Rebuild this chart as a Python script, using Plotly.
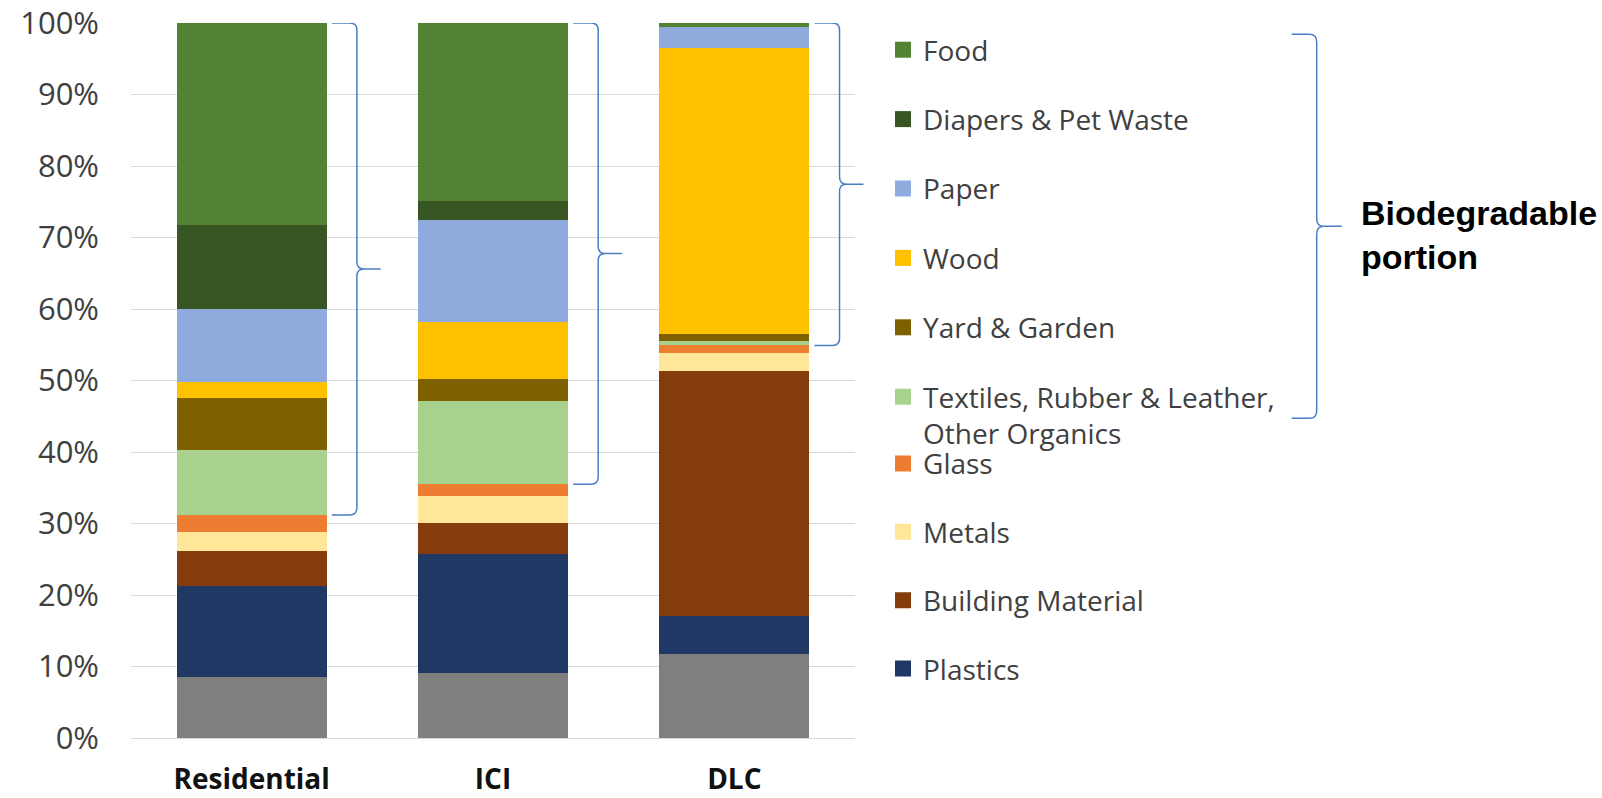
import plotly.graph_objects as go

# ---------------- data ----------------
categories = ["Residential", "ICI", "DLC"]

other = [8.6, 9.1, 11.7]          # grey base segment (not in legend)
plastics = [12.6, 16.6, 5.4]
building_material = [5.0, 4.4, 34.2]
metals = [2.6, 3.8, 2.6]
glass = [2.4, 1.6, 1.0]
textiles = [9.1, 11.7, 0.6]
yard_garden = [7.3, 3.0, 1.0]
wood = [2.2, 8.0, 40.0]
paper = [10.2, 14.3, 3.0]
diapers = [11.7, 2.6, 0.0]
food = [28.3, 24.9, 0.5]

y_ticks = [0, 10, 20, 30, 40, 50, 60, 70, 80, 90, 100]
y_tick_labels = [f"{v}%" for v in y_ticks]

# stacking order bottom -> top
stack = [
    ("Other", other, "#7F7F7F"),
    ("Plastics", plastics, "#1F3864"),
    ("Building Material", building_material, "#843C0C"),
    ("Metals", metals, "#FFE699"),
    ("Glass", glass, "#ED7D31"),
    ("Textiles, Rubber & Leather,<br>Other Organics", textiles, "#A9D18E"),
    ("Yard & Garden", yard_garden, "#7F6000"),
    ("Wood", wood, "#FFC000"),
    ("Paper", paper, "#8FAADC"),
    ("Diapers & Pet Waste", diapers, "#375623"),
    ("Food", food, "#548235"),
]
non_biodegradable = ["Other", "Plastics", "Building Material", "Metals", "Glass"]
legend1_items = ["Food", "Diapers & Pet Waste", "Paper", "Wood", "Yard & Garden",
                 "Textiles, Rubber & Leather,<br>Other Organics"]
legend2_items = ["Glass", "Metals", "Building Material", "Plastics"]

fig = go.Figure()
for name, vals, col in stack:
    fig.add_trace(go.Bar(x=categories, y=vals, name=name, marker=dict(color=col, line=dict(width=0)),
                         showlegend=False))

color_of = {n: c for n, _, c in stack}
for lg, items in (("legend", legend1_items), ("legend2", legend2_items)):
    for n in items:
        fig.add_trace(go.Scatter(x=[None], y=[None], mode="markers", name=n, legend=lg, legendgroup=n,
                                 marker=dict(symbol="square", size=18, color=color_of[n]),
                                 showlegend=True, hoverinfo="skip"))

# ---------------- braces ----------------
BRACE_COLOR = "#4A7EC4"

def brace_path(x0, xv, xt, ytop, ybot, rx, ry):
    ymid = (ytop + ybot) / 2
    return (f"M {x0},{ytop} L {xv - rx},{ytop} Q {xv},{ytop} {xv},{ytop - ry} "
            f"L {xv},{ymid + ry} Q {xv},{ymid} {xv + rx},{ymid} L {xt},{ymid} "
            f"M {xv + rx},{ymid} Q {xv},{ymid} {xv},{ymid - ry} "
            f"L {xv},{ybot + ry} Q {xv},{ybot} {xv - rx},{ybot} L {x0},{ybot}")

shapes = []
n_cat = len(categories)
for i, cat in enumerate(categories):
    total = sum(v[i] for _, v, _ in stack)
    base = sum(v[i] for n, v, _ in stack if n in non_biodegradable)
    cx = (i + 0.5) / n_cat
    shapes.append(dict(type="path", xref="paper", yref="y",
                       path=brace_path(cx + 0.1107, cx + 0.1453, cx + 0.1783, total, base, 0.0097, 1.0),
                       line=dict(color=BRACE_COLOR, width=1.5)))

shapes.append(dict(type="path", xref="paper", yref="paper",
                   path=brace_path(1.6032, 1.6377, 1.6722, 0.9842, 0.4471, 0.0097, 0.011),
                   line=dict(color=BRACE_COLOR, width=1.5)))

fig.update_layout(
    width=1602, height=798,
    margin=dict(l=131, r=747, t=23, b=60, autoexpand=False),
    plot_bgcolor="white", paper_bgcolor="white",
    barmode="stack", bargap=0.379,
    font=dict(family="Open Sans", color="#404040"),
    xaxis=dict(type="category", range=[-0.5, 2.5], showgrid=False, zeroline=False, showline=False,
               automargin=False,
               tickfont=dict(family="Open Sans", size=28, color="#111111", weight="bold"),
               ticks="", ticklabelstandoff=22),
    yaxis=dict(range=[0, 100], tickvals=y_ticks, ticktext=y_tick_labels, showgrid=True,
               automargin=False,
               gridcolor="#D9D9D9", gridwidth=1.3, zeroline=True, zerolinecolor="#D9D9D9",
               zerolinewidth=1.3, showline=False, ticks="",
               tickfont=dict(family="Open Sans", size=31, color="#404040"), ticklabelstandoff=31),
    legend=dict(x=1.0387, y=0.9972, xanchor="left", yanchor="top", tracegroupgap=30, valign="top",
                font=dict(family="Open Sans", size=28, color="#404040"), bgcolor="rgba(0,0,0,0)"),
    legend2=dict(x=1.0387, y=0.4186, xanchor="left", yanchor="top", tracegroupgap=29, valign="top",
                 font=dict(family="Open Sans", size=28, color="#404040"), bgcolor="rgba(0,0,0,0)"),
    shapes=shapes,
    annotations=[dict(xref="paper", yref="paper", x=1.6961, y=0.7037, xanchor="left", yanchor="middle",
                      align="left", showarrow=False, text="<b>Biodegradable<br>portion</b>",
                      font=dict(family="Liberation Sans", size=34, color="#000000"))],
)

fig.write_html("out.html")
